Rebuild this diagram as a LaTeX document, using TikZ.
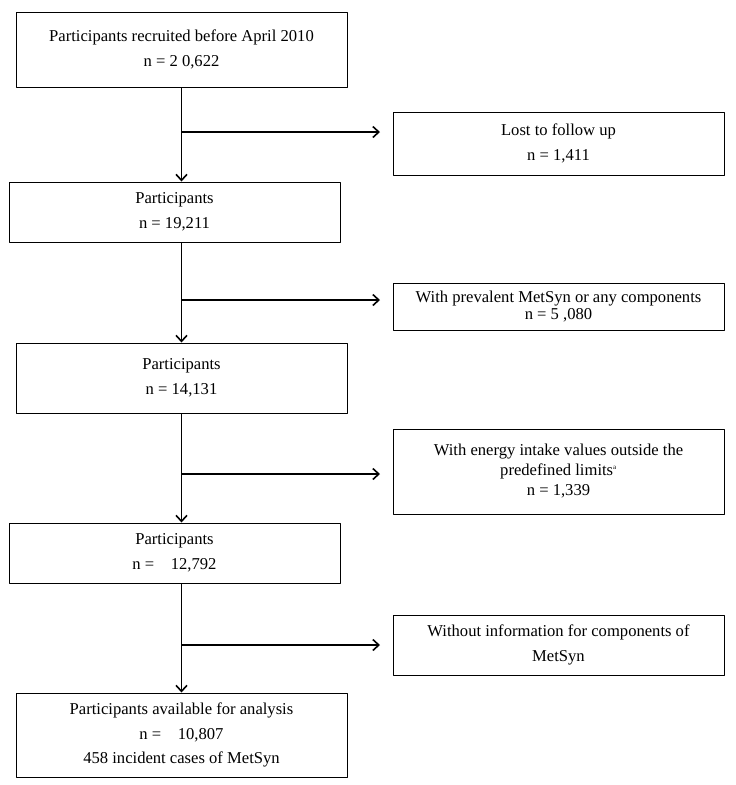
\documentclass[tikz,border=0pt]{standalone}
\usepackage{fontspec}
\setmainfont{Liberation Serif}
\usetikzlibrary{arrows.meta}
\begin{document}
\begin{tikzpicture}[x=1pt, y=-1pt, line join=round, >={Straight Barb[length=6pt,width=11pt]}]

		\tikzset{box style/.style={draw, line width=1pt, minimum width=331pt, inner sep=0pt, align=center, font=\fontsize{16.6}{25}\selectfont}}
		\tikzset{flow style/.style={->, line width=1.6pt}}

		\useasboundingbox (0,0) rectangle (736,785);
		\node[box style, minimum height=75pt] (start) at (181.5,49.5) {Participants recruited before April 2010\\n = 2 0,622};
		\node[box style, minimum height=60pt] (partA) at (174.5,212) {Participants\\n = 19,211};
		\node[box style, minimum height=70pt] (partB) at (181.5,378) {Participants\\n = 14,131};
		\node[box style, minimum height=60pt] (partC) at (174.5,553) {Participants\\n =\ \ \ \ 12,792};
		\node[box style, minimum height=84pt, font=\fontsize{16.6}{24.5}\selectfont] (final) at (181.5,735) {Participants available for analysis\\n =\ \ \ \ 10,807\\458 incident cases of MetSyn};
		\node[box style, minimum height=63pt] (lost) at (558.5,143.5) {Lost to follow up\\n = 1,411};
		\node[box style, minimum height=47pt, font=\fontsize{16.6}{17.5}\selectfont] (prev) at (558.5,306.5) {With prevalent MetSyn or any components\\n = 5 ,080};
		\node[box style, minimum height=85pt, font=\fontsize{16.6}{20}\selectfont] (energy) at (558.5,471.5) {With energy intake values outside the\\predefined limits\textsuperscript{\scriptsize a}\\n = 1,339};
		\node[box style, minimum height=60pt] (noinfo) at (558.5,645) {Without information for components of\\MetSyn};

		\foreach \j/\y in {1/132,2/300,3/474,4/645}
		{
		\coordinate (j\j) at (181.5,\y);
		\coordinate (e\j) at (380,\y);
		\draw[flow style] (j\j)--(e\j);
		}

		\draw[flow style] (start.south)--(start.south |- partA.north);
		\draw[flow style] (start.south |- partA.south)--(start.south |- partB.north);
		\draw[flow style] (partB.south)--(partB.south |- partC.north);
		\draw[flow style] (partB.south |- partC.south)--(final.north);
		\end{tikzpicture}
\end{document}
